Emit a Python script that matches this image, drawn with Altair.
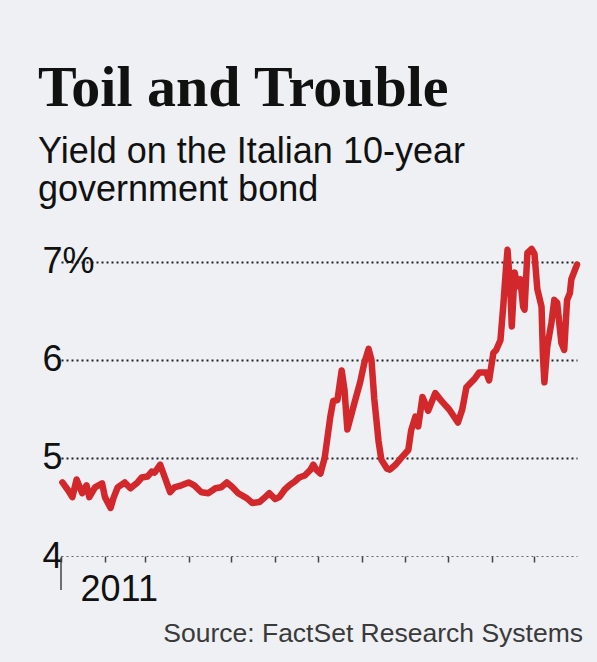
import altair as alt
import pandas as pd

dates = ["2011-01-02","2011-01-06","2011-01-09","2011-01-12","2011-01-16","2011-01-19","2011-01-21","2011-01-25","2011-01-30",
         "2011-02-01","2011-02-05","2011-02-07","2011-02-10","2011-02-15","2011-02-19","2011-02-24","2011-02-27",
         "2011-03-03","2011-03-06","2011-03-08","2011-03-12","2011-03-15","2011-03-19","2011-03-22","2011-03-27",
         "2011-04-01","2011-04-05","2011-04-10","2011-04-15","2011-04-20","2011-04-24","2011-04-28",
         "2011-05-02","2011-05-06","2011-05-12","2011-05-16","2011-05-21","2011-05-25","2011-05-28",
         "2011-06-01","2011-06-04","2011-06-08","2011-06-11","2011-06-15","2011-06-18","2011-06-22","2011-06-26","2011-06-28","2011-06-30",
         "2011-07-03","2011-07-06","2011-07-10","2011-07-12","2011-07-15","2011-07-18","2011-07-20","2011-07-22","2011-07-25","2011-07-27","2011-07-31",
         "2011-08-03","2011-08-06","2011-08-08","2011-08-10","2011-08-13","2011-08-15","2011-08-19","2011-08-21","2011-08-25","2011-08-29",
         "2011-09-03","2011-09-05","2011-09-08","2011-09-10","2011-09-13","2011-09-17","2011-09-22","2011-09-27",
         "2011-10-02","2011-10-08","2011-10-11","2011-10-14","2011-10-20","2011-10-23","2011-10-28","2011-10-30",
         "2011-11-02","2011-11-04","2011-11-07","2011-11-09","2011-11-11","2011-11-12","2011-11-14","2011-11-15","2011-11-17",
         "2011-11-19","2011-11-21","2011-11-23","2011-11-24","2011-11-26","2011-11-29",
         "2011-12-01","2011-12-03","2011-12-06","2011-12-07","2011-12-08","2011-12-10","2011-12-13","2011-12-15","2011-12-17",
         "2011-12-20","2011-12-22","2011-12-24","2011-12-26","2011-12-27","2011-12-31"]

yields = [4.75,4.67,4.60,4.78,4.64,4.72,4.60,4.70,4.74,
          4.60,4.49,4.59,4.70,4.75,4.69,4.75,4.80,
          4.81,4.86,4.85,4.93,4.81,4.65,4.70,4.72,
          4.75,4.72,4.65,4.64,4.69,4.70,4.75,
          4.70,4.64,4.59,4.54,4.55,4.60,4.64,
          4.58,4.60,4.68,4.72,4.76,4.80,4.82,4.88,4.93,4.88,
          4.84,5.00,5.42,5.58,5.59,5.89,5.69,5.29,5.45,5.56,5.77,
          5.97,6.11,6.00,5.60,5.17,4.98,4.89,4.88,4.93,5.00,
          5.08,5.28,5.42,5.32,5.62,5.48,5.66,5.57,
          5.49,5.36,5.49,5.72,5.81,5.87,5.87,5.79,
          6.07,6.10,6.20,6.55,6.95,7.12,6.71,6.34,6.89,
          6.75,6.82,6.54,6.51,7.09,7.13,
          7.08,6.72,6.54,6.03,5.77,6.13,6.38,6.61,6.58,
          6.17,6.10,6.61,6.68,6.82,6.97]

y_ticks = [4, 5, 6, 7]
month_starts = ["2011-01-01","2011-02-01","2011-03-01","2011-04-01","2011-05-01","2011-06-01",
                "2011-07-01","2011-08-01","2011-09-01","2011-10-01","2011-11-01","2011-12-01"]
year_start = ["2011-01-01"]
source_text = ["Source: FactSet Research Systems"]

df = pd.DataFrame({"date": dates, "yield": yields})
df_year = pd.DataFrame({"date": year_start})
df_src = pd.DataFrame({"t": source_text})

W, H = 516, 314

xscale = alt.Scale(type="utc", domain=[alt.DateTime(year=2011, month=1, date=1, utc=True),
                                       alt.DateTime(year=2011, month=12, date=31, utc=True)])

x_values = [alt.DateTime(year=2011, month=i + 1, date=1, utc=True) for i in range(len(month_starts))]

line = alt.Chart(df).mark_line(color="#d2282c", strokeWidth=6.5, strokeJoin="round", strokeCap="round").encode(
    x=alt.X("date:T", scale=xscale,
            axis=alt.Axis(title=None, grid=False, domain=False, ticks=True,
                          values=x_values,
                          tickSize=6, tickColor="#444", tickWidth=1.5,
                          labelExpr="utcmonth(datum.value) == 0 ? '2011' : ''",
                          labelFont="Liberation Sans", labelFontSize=36, labelColor="#111",
                          labelAlign="left", labelBaseline="top", labelOffset=19, labelPadding=10,
                          labelFlush=False, labelOverlap=False, labelBound=False)),
    y=alt.Y("yield:Q", scale=alt.Scale(domain=[4, 7.2], nice=False, zero=False),
            axis=alt.Axis(title=None, values=y_ticks, grid=True, domain=False, ticks=False, tickSize=0,
                          gridDash=[2, 3],
                          gridColor={"condition": {"test": "datum.value === 4", "value": "#666"}, "value": "#222"},
                          gridWidth={"condition": {"test": "datum.value === 4", "value": 1.2}, "value": 1.8},
                          labelExpr="datum.value == 7 ? '7%' : datum.label",
                          labelFont="Liberation Sans", labelFontSize=36, labelColor="#111",
                          labelAlign="left", labelPadding=19)),
)

year_tick = alt.Chart(df_year).mark_rule(color="#444", strokeWidth=1.5).encode(
    x=alt.X("date:T", scale=xscale),
    y=alt.value(H + 2), y2=alt.value(H + 34))

source = alt.Chart(df_src).mark_text(align="right", baseline="alphabetic", font="Liberation Sans",
                                     fontSize=26.5, color="#3a3a3a").encode(
    text="t:N", x=alt.value(522), y=alt.value(400))

chart = alt.layer(line, year_tick, source).properties(
    width=W, height=H,
    autosize=alt.AutoSizeParams(type="none"),
    padding={"left": 61, "top": 242, "right": 20, "bottom": 106},
    title=alt.TitleParams(
        text="Toil and Trouble",
        subtitle=["Yield on the Italian 10-year", "government bond"],
        anchor="start", frame="group", dx=-23, offset=34,
        font="Liberation Serif", fontWeight="bold", fontSize=58, color="#111",
        subtitleFont="Liberation Sans", subtitleFontSize=36, subtitleColor="#111",
        subtitleLineHeight=38, subtitlePadding=17),
).configure(background="#eef0f4").configure_view(stroke=None)

chart.save("out.html", embed_options={"renderer": "svg", "actions": False})
